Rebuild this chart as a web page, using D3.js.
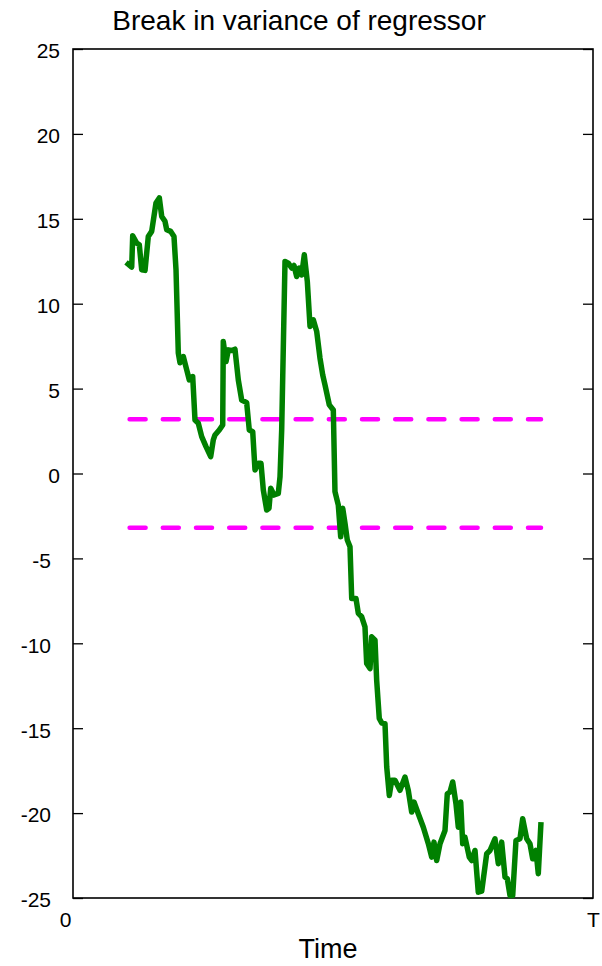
<!DOCTYPE html>
<html>
<head>
<meta charset="utf-8">
<script src="https://cdn.jsdelivr.net/npm/d3@7/dist/d3.min.js"></script>
<style>
  html, body { margin: 0; padding: 0; background: #fff; }
  svg { display: block; font-family: "Liberation Sans", Arial, sans-serif; }
</style>
</head>
<body>
<svg id="chart" width="602" height="966"></svg>
<script>
// Time position of each observation, in percent of the sample length T
const timePct = [
  10.2, 11.29, 11.48, 12.25, 12.75, 13.21, 13.85, 14.48, 15.13, 15.96, 16.60, 17.06, 17.69, 18.02,
  18.79, 19.42, 19.81, 20.25, 20.58, 21.21, 21.87, 22.37, 23.02, 23.46, 24.10, 24.75, 25.58, 26.48,
  26.98, 27.31, 28.13, 28.79, 28.90, 29.42, 29.87, 30.52, 31.15, 31.79, 32.44, 33.40, 33.90, 34.56,
  35.00, 35.63, 36.15, 36.60, 37.25, 37.69, 38.02, 38.65, 39.48, 39.81, 40.13,
  40.77, 41.40, 42.06, 42.50, 43.02, 43.52, 43.98, 44.48, 45.06, 45.58, 46.21, 46.87, 47.50, 48.02,
  48.46, 49.29, 50.06, 50.38, 51.02, 51.48, 51.87, 52.31, 52.75, 53.27,
  53.60, 54.42, 54.87, 55.52, 56.15, 56.48, 57.12, 57.44, 58.08, 58.40, 58.90, 59.37, 60.00, 60.33,
  60.83, 61.29, 61.92, 62.88, 63.85, 64.48, 65.13, 65.58, 66.40,
  67.37, 68.33, 68.98, 69.42, 69.94, 70.58, 71.54, 71.98, 72.50, 73.02, 73.65, 74.10, 74.56, 74.94,
  75.38, 76.21, 76.67, 77.31, 77.94, 78.60, 79.56, 80.19, 81.15, 81.79, 82.44, 83.08, 83.52, 84.04,
  84.56, 85.19, 85.96, 86.48, 87.25, 87.88, 88.40, 89.04, 89.48, 90.00
];

// Sequence of the test statistic at each observation
const statValue = [
  12.43, 12.16, 14.00, 13.57, 13.47, 12.00, 11.96, 13.96, 14.26, 15.93, 16.23, 15.14, 14.85, 14.36,
  14.26, 13.96, 12.00, 7.10, 6.52, 6.89, 6.10, 5.51, 5.71, 3.15, 2.96, 2.17, 1.58, 0.99,
  1.98, 2.27, 2.56, 2.86, 7.77, 6.59, 7.28, 7.24, 7.32, 5.51, 4.33, 4.17, 2.56, 2.46,
  0.21, 0.60, 0.60, -0.97, -2.15, -2.05, -0.87, -1.27, -1.17, -0.19, 2.56,
  12.49, 12.39, 12.10, 12.25, 11.60, 12.10, 11.70, 12.88, 11.31, 8.66, 9.05, 8.36, 6.79, 5.81,
  5.22, 4.04, 3.74, -1.07, -1.86, -3.73, -2.05, -2.94, -3.92, -4.32,
  -7.36, -7.36, -8.24, -8.44, -9.03, -11.19, -11.49, -9.62, -9.82, -12.18, -14.43, -14.69, -14.73, -17.29,
  -18.96, -18.07, -18.07, -18.66, -17.88, -18.66, -19.94, -19.35, -20.04,
  -20.83, -21.80, -22.59, -21.71, -22.79, -21.80, -21.02, -18.86, -18.76, -18.17, -19.45, -20.83, -19.35, -21.80,
  -21.42, -22.59, -22.79, -22.20, -24.66, -24.60, -22.39, -22.20, -21.51, -22.98, -21.71, -23.77, -23.87, -24.85,
  -24.85, -21.61, -21.51, -20.33, -21.51, -21.80, -22.69, -22.20, -23.57, -20.53
];

// Critical bounds and the trimmed range over which they apply
const criticalValue = 3.19;
const boundRangePct = [10, 90];

// Axis ticks
const yTicks = [25, 20, 15, 10, 5, 0, -5, -10, -15, -20, -25];
const xTickPct = [0, 100];
const xTickLabels = ["0", "T"];

const titleText = "Break in variance of regressor";
const xLabelText = "Time";

const svg = d3.select("#chart");
const plotLeft = 73, plotRight = 593, plotTop = 49, plotBottom = 898;

const x = d3.scaleLinear().domain([0, 100]).range([plotLeft, plotRight]);
const y = d3.scaleLinear().domain([-25, 25]).range([plotBottom, plotTop]);

// Plot frame
svg.append("rect")
  .attr("x", plotLeft).attr("y", plotTop)
  .attr("width", plotRight - plotLeft).attr("height", plotBottom - plotTop)
  .attr("fill", "none").attr("stroke", "#000").attr("stroke-width", 1.6);

// Left axis: inward ticks with labels (plain hyphen for negatives)
const yAxisLeft = svg.append("g")
  .attr("transform", `translate(${plotLeft},0)`)
  .call(d3.axisLeft(y).tickValues(yTicks).tickSize(-10).tickPadding(13).tickFormat(d => String(d)));
yAxisLeft.select(".domain").remove();
yAxisLeft.selectAll(".tick line").attr("stroke", "#000").attr("stroke-width", 1.3);
yAxisLeft.selectAll(".tick text")
  .attr("font-size", 21)
  .attr("fill", "#000")
  .attr("dy", "0.42em")
  .attr("dx", d => d < 0 ? -9 : 0);

// Right axis: inward ticks only
const yAxisRight = svg.append("g")
  .attr("transform", `translate(${plotRight},0)`)
  .call(d3.axisRight(y).tickValues(yTicks).tickSize(-10).tickFormat(""));
yAxisRight.select(".domain").remove();
yAxisRight.selectAll(".tick line").attr("stroke", "#000").attr("stroke-width", 1.3);

// Bottom axis: labels at the two ends
const xAxis = svg.append("g")
  .attr("transform", `translate(0,${plotBottom})`)
  .call(d3.axisBottom(x).tickValues(xTickPct).tickSize(0).tickPadding(14)
    .tickFormat((d, i) => xTickLabels[i]));
xAxis.select(".domain").remove();
xAxis.selectAll(".tick text")
  .attr("font-size", 21)
  .attr("fill", "#000")
  .attr("dx", (d, i) => i === 0 ? -8 : 0);

// Critical bounds
const boundLine = d3.line().x(d => x(d[0])).y(d => y(d[1]));
[criticalValue, -criticalValue].forEach(c => {
  svg.append("path")
    .datum(boundRangePct.map(t => [t, c]))
    .attr("d", boundLine)
    .attr("fill", "none")
    .attr("stroke", "#ff00ff")
    .attr("stroke-width", 4.5)
    .attr("stroke-linecap", "round")
    .attr("stroke-dasharray", "16 17.2")
    .attr("stroke-dashoffset", 28.6);
});

// Statistic path
const series = timePct.map((t, i) => [t, statValue[i]]);
svg.append("path")
  .datum(series)
  .attr("d", d3.line().x(d => x(d[0])).y(d => y(d[1])))
  .attr("fill", "none")
  .attr("stroke", "#008000")
  .attr("stroke-width", 5.5)
  .attr("stroke-linejoin", "round");

// Title and axis label
svg.append("text")
  .attr("x", 299).attr("y", 30)
  .attr("text-anchor", "middle")
  .attr("font-size", 28)
  .attr("fill", "#000")
  .text(titleText);

svg.append("text")
  .attr("x", 328).attr("y", 958)
  .attr("text-anchor", "middle")
  .attr("font-size", 27)
  .attr("fill", "#000")
  .text(xLabelText);
</script>
</body>
</html>
